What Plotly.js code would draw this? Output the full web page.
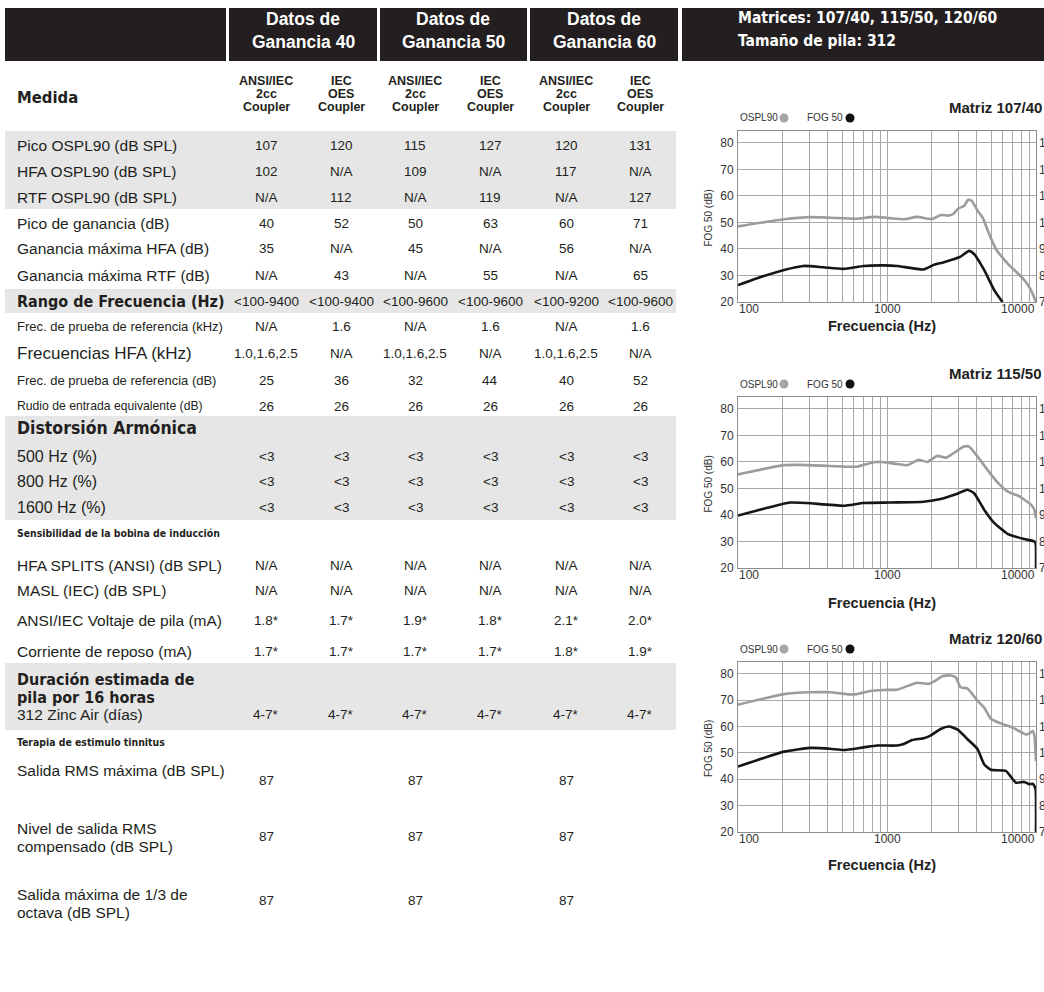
<!DOCTYPE html>
<html><head><meta charset="utf-8">
<script src="https://cdn.plot.ly/plotly-3.0.1.min.js"></script>
<style>html,body{margin:0;padding:0;background:#fff}#chart{width:1044px;height:992px}</style>
</head><body><div id="chart"></div>
<script>
// ================= DATA =================
const groupHeaders = ['Datos de\nGanancia 40', 'Datos de\nGanancia 50', 'Datos de\nGanancia 60'];
const couplerHeaders = ['ANSI/IEC\n2cc\nCoupler', 'IEC\nOES\nCoupler', 'ANSI/IEC\n2cc\nCoupler', 'IEC\nOES\nCoupler', 'ANSI/IEC\n2cc\nCoupler', 'IEC\nOES\nCoupler'];
const panelHeader = ['Matrices: 107/40, 115/50, 120/60', 'Tamaño de pila: 312'];
const measureHeader = 'Medida';

const rowLabels = [
  'Pico OSPL90 (dB SPL)',
  'HFA OSPL90 (dB SPL)',
  'RTF OSPL90 (dB SPL)',
  'Pico de ganancia (dB)',
  'Ganancia máxima HFA (dB)',
  'Ganancia máxima RTF (dB)',
  'Rango de Frecuencia (Hz)',
  'Frec. de prueba de referencia (kHz)',
  'Frecuencias HFA (kHz)',
  'Frec. de prueba de referencia (dB)',
  'Rudio de entrada equivalente (dB)',
  'Distorsión Armónica',
  '500 Hz (%)',
  '800 Hz (%)',
  '1600 Hz (%)',
  'Sensibilidad de la bobina de inducción',
  'HFA SPLITS (ANSI) (dB SPL)',
  'MASL (IEC) (dB SPL)',
  'ANSI/IEC Voltaje de pila (mA)',
  'Corriente de reposo (mA)',
  'Duración estimada de\npila por 16 horas',
  '312 Zinc Air (días)',
  'Terapia de estimulo tinnitus',
  'Salida RMS máxima (dB SPL)',
  'Nivel de salida RMS\ncompensado (dB SPL)',
  'Salida máxima de 1/3 de\noctava (dB SPL)'
];
const rowValues = [
  ['107', '120', '115', '127', '120', '131'],
  ['102', 'N/A', '109', 'N/A', '117', 'N/A'],
  ['N/A', '112', 'N/A', '119', 'N/A', '127'],
  ['40', '52', '50', '63', '60', '71'],
  ['35', 'N/A', '45', 'N/A', '56', 'N/A'],
  ['N/A', '43', 'N/A', '55', 'N/A', '65'],
  ['<100-9400', '<100-9400', '<100-9600', '<100-9600', '<100-9200', '<100-9600'],
  ['N/A', '1.6', 'N/A', '1.6', 'N/A', '1.6'],
  ['1.0,1.6,2.5', 'N/A', '1.0,1.6,2.5', 'N/A', '1.0,1.6,2.5', 'N/A'],
  ['25', '36', '32', '44', '40', '52'],
  ['26', '26', '26', '26', '26', '26'],
  [],
  ['<3', '<3', '<3', '<3', '<3', '<3'],
  ['<3', '<3', '<3', '<3', '<3', '<3'],
  ['<3', '<3', '<3', '<3', '<3', '<3'],
  [],
  ['N/A', 'N/A', 'N/A', 'N/A', 'N/A', 'N/A'],
  ['N/A', 'N/A', 'N/A', 'N/A', 'N/A', 'N/A'],
  ['1.8*', '1.7*', '1.9*', '1.8*', '2.1*', '2.0*'],
  ['1.7*', '1.7*', '1.7*', '1.7*', '1.8*', '1.9*'],
  [],
  ['4-7*', '4-7*', '4-7*', '4-7*', '4-7*', '4-7*'],
  [],
  ['87', '', '87', '', '87', ''],
  ['87', '', '87', '', '87', ''],
  ['87', '', '87', '', '87', '']
];

// Frequency response charts
const matrixNames = ['Matriz 107/40', 'Matriz 115/50', 'Matriz 120/60'];
const legendNames = ['OSPL90', 'FOG 50'];
const axisTitleY = 'FOG 50 (dB)';
const axisTitleX = 'Frecuencia (Hz)';
const gridFreqs = [100, 200, 300, 400, 500, 600, 700, 800, 900, 1000, 2000, 3000, 4000, 5000, 6000, 7000, 8000, 9000, 10000];
const freqLabels = [100, 1000, 10000];
const fogTicks = [20, 30, 40, 50, 60, 70, 80];
const osplTicks = [70, 80, 90, 100, 110, 120, 130];

const freqOspl_107 = [100, 204, 304, 415, 628, 813, 1052, 1294, 1592, 2000, 2300, 2600, 2800, 3000, 3300, 3500, 3700, 4047, 4400, 4725, 5375, 6440, 8340, 9250, 10000];
const ospl_107 = [98.5, 101.2, 102.0, 101.8, 101.4, 102.1, 101.6, 101.2, 102.1, 101.3, 102.8, 102.6, 103.3, 105.2, 106.3, 108.6, 108.2, 104.5, 101.6, 97.2, 90.0, 84.6, 78.3, 74.5, 70.0];
const freqFog_107 = [100, 133, 204, 274, 374, 511, 696, 950, 1167, 1765, 2064, 2409, 3119, 3550, 3840, 4486, 5240, 5960];
const fog_107 = [26.4, 28.9, 32.1, 33.6, 33.1, 32.5, 33.6, 33.8, 33.6, 32.3, 34.0, 35.0, 37.1, 39.3, 38.1, 32.1, 24.5, 20.0];

const freqOspl_115 = [100, 204, 260, 415, 628, 813, 925, 1167, 1365, 1634, 1862, 2173, 2473, 2675, 2966, 3289, 3550, 4047, 4725, 5520, 6440, 7730, 9250, 9750, 10000];
const ospl_115 = [105.3, 108.8, 108.9, 108.5, 108.2, 109.9, 110.0, 109.2, 108.8, 110.8, 110.0, 112.3, 111.6, 112.6, 114.3, 115.8, 115.8, 112.1, 107.0, 102.3, 98.9, 97.0, 93.9, 92.0, 88.8];
const freqFog_115 = [100, 155, 223, 289, 511, 696, 1052, 1765, 2291, 2966, 3460, 3840, 4486, 5240, 6440, 8340, 9750, 9950, 10000];
const fog_115 = [39.8, 42.6, 44.7, 44.5, 43.5, 44.5, 44.7, 45.0, 46.0, 48.0, 49.5, 48.2, 42.0, 37.0, 32.9, 30.9, 30.0, 29.2, 20.0];

const freqOspl_120 = [100, 204, 304, 415, 566, 628, 772, 950, 1167, 1435, 1592, 1910, 2118, 2350, 2675, 2891, 3119, 3460, 4047, 4486, 4975, 5810, 6960, 8570, 9020, 9500, 9750, 10000];
const ospl_120 = [118.3, 122.3, 123.0, 123.0, 122.2, 122.3, 123.5, 123.9, 124.0, 125.8, 126.6, 126.2, 127.4, 129.1, 129.4, 128.7, 124.9, 124.5, 119.8, 117.2, 113.0, 111.2, 109.6, 107.0, 107.4, 108.3, 106.6, 96.8];
const freqFog_120 = [100, 204, 304, 415, 511, 696, 857, 1167, 1294, 1475, 1765, 1958, 2291, 2606, 2966, 3460, 4047, 4486, 4975, 6280, 7330, 8340, 9020, 9500, 9750, 9950, 10000];
const fog_120 = [44.8, 50.5, 51.9, 51.6, 51.1, 52.1, 52.8, 52.8, 53.4, 54.9, 55.6, 56.6, 59.1, 60.0, 58.9, 55.3, 51.5, 45.7, 43.6, 43.2, 38.7, 39.0, 38.1, 38.3, 37.5, 36.0, 20.0];

// ================= LAYOUT / STYLE =================
const W = 1044, H = 992;
const px = x => x / W, py = y => 1 - y / H;
const SANS = 'Liberation Sans, Arial, Helvetica, sans-serif';
const HEAVY = 'DejaVu Sans Condensed, DejaVu Sans, sans-serif';
const INK = '#231f20';
const BAND = '#e6e6e6';

const annotations = [];
const shapes = [];
const esc = s => String(s).replace(/&/g, '&amp;').replace(/</g, '&lt;').replace(/>/g, '&gt;');

function txt(x, y, s, o) {
  annotations.push({
    xref: 'paper', yref: 'paper', x: px(x), y: py(y), text: esc(s), showarrow: false,
    xanchor: o.anchor || 'left', yanchor: 'middle', borderpad: 0,
    font: {family: o.family || SANS, size: o.size, color: o.color || INK, weight: o.bold ? 'bold' : 'normal'}
  });
}
function lines(x, y0, s, lh, o) {
  String(s).split('\n').forEach((ln, i) => txt(x, y0 + i * lh, ln, o));
}
function rect(x0, y0, x1, y1, color) {
  shapes.push({type: 'rect', xref: 'paper', yref: 'paper', x0: px(x0), x1: px(x1), y0: py(y1), y1: py(y0),
    fillcolor: color, line: {width: 0}, layer: 'below'});
}

// header bars
const barTop = 8, barBot = 61;
[[5, 226], [229, 377], [380, 527], [530, 678], [682, 1044]].forEach(b => rect(b[0], barTop, b[1], barBot, INK));
const groupX = [303, 453, 604];
groupHeaders.forEach((g, i) => lines(groupX[i], 19, g, 23, {size: 17.5, bold: true, color: '#ffffff', anchor: 'center'}));
lines(737, 18, panelHeader.join('\n'), 23, {size: 15.5, bold: true, color: '#ffffff', family: HEAVY});

// subheader
const colX = [266, 341, 415, 490, 566, 640];
txt(16, 97, measureHeader, {size: 16.5, bold: true, family: HEAVY});
couplerHeaders.forEach((c, i) => lines(colX[i], 81, c, 12.8, {size: 12.5, bold: true, anchor: 'center'}));

// grey bands
[[131, 209], [289, 313], [416, 520], [663, 730]].forEach(b => rect(5, b[0], 676, b[1], BAND));

// row styles (kept separate from the data)
const rowY = [145, 171, 197, 223, 249, 275, 301, 327, 353, 380, 406, 428, 456, 481, 507, 533, 565, 590, 620, 651, 679, 714, 742, 770, 828, 894];
const valY = [145, 171, 197, 223, 249, 275, 301, 327, 353, 380, 406, 428, 456, 481, 507, 533, 565, 590, 620, 651, 679, 714, 742, 780, 836, 900];
const STY = {
  n: {size: 15.5}, s: {size: 13}, xs: {size: 12.2}, l: {size: 17}, m: {size: 16},
  h: {size: 16, bold: true, family: HEAVY}, hd: {size: 17.5, bold: true, family: HEAVY},
  hr: {size: 16, bold: true, family: HEAVY}, hs: {size: 10.4, bold: true, family: HEAVY}
};
const rowStyle = ['n', 'n', 'n', 'n', 'n', 'n', 'hr', 's', 'l', 's', 'xs', 'hd', 'm', 'm', 'm', 'hs', 'n', 'n', 'n', 'n', 'h', 'n', 'hs', 'n', 'n', 'n'];

rowLabels.forEach((lab, r) => {
  lines(16, rowY[r], lab, 18, STY[rowStyle[r]]);
  rowValues[r].forEach((v, c) => { if (v !== '') txt(colX[c], valY[r], v, {size: 13.5, anchor: 'center'}); });
});

// ================= CHARTS =================
const CX0 = 738, CX1 = 1036;
const chartTop = [131, 397, 662];
const chartBot = [302, 568, 832];
const xTitleY = [326, 603, 865];
const osplSeries = [[freqOspl_107, ospl_107], [freqOspl_115, ospl_115], [freqOspl_120, ospl_120]];
const fogSeries = [[freqFog_107, fog_107], [freqFog_115, fog_115], [freqFog_120, fog_120]];

const traces = [];
const layout = {
  width: W, height: H, margin: {l: 0, r: 0, t: 0, b: 0, pad: 0},
  paper_bgcolor: '#ffffff', plot_bgcolor: '#ffffff', showlegend: false,
  font: {family: SANS, color: '#333'}, annotations, shapes
};
const GRID = '#a8a8a8', BORDER = '#8c8c8c';

for (let i = 0; i < 3; i++) {
  const xId = i === 0 ? 'x' : 'x' + (i + 1);
  const yL = i === 0 ? 'y' : 'y' + (2 * i + 1);
  const yR = 'y' + (2 * i + 2);
  const xKey = i === 0 ? 'xaxis' : 'xaxis' + (i + 1);
  const yLKey = i === 0 ? 'yaxis' : 'yaxis' + (2 * i + 1);
  const yRKey = 'yaxis' + (2 * i + 2);
  const dom = [py(chartBot[i]), py(chartTop[i])];

  layout[xKey] = {
    type: 'log', domain: [px(CX0), px(CX1)], range: [2, 4], anchor: yL,
    tickmode: 'array', tickvals: gridFreqs, showticklabels: false, ticks: '',
    showgrid: true, gridcolor: GRID, gridwidth: 1, zeroline: false,
    showline: true, mirror: true, linecolor: BORDER, linewidth: 1, fixedrange: true
  };
  layout[yLKey] = {
    domain: dom, range: [20, 84.5], anchor: xId, tickmode: 'array', tickvals: fogTicks,
    showgrid: true, gridcolor: GRID, gridwidth: 1, zeroline: false, ticks: '',
    showline: true, mirror: true, linecolor: BORDER, linewidth: 1,
    tickfont: {family: SANS, size: 12, color: '#333'}, ticklabelstandoff: 1, fixedrange: true
  };
  layout[yRKey] = {
    overlaying: yL, side: 'right', anchor: xId, range: [70, 134.5], tickmode: 'array', tickvals: osplTicks,
    showgrid: false, zeroline: false, ticks: '', showline: false,
    tickfont: {family: SANS, size: 12, color: '#333'}, ticklabelstandoff: 2, fixedrange: true
  };

  traces.push({
    type: 'scatter', mode: 'lines', x: osplSeries[i][0], y: osplSeries[i][1], xaxis: xId, yaxis: yR,
    line: {color: '#9c9c9c', width: 2.6, shape: 'spline', smoothing: 0.5}, hoverinfo: 'skip', name: legendNames[0]
  });
  traces.push({
    type: 'scatter', mode: 'lines', x: fogSeries[i][0], y: fogSeries[i][1], xaxis: xId, yaxis: yL,
    line: {color: '#161616', width: 2.6, shape: 'spline', smoothing: 0.5}, hoverinfo: 'skip', name: legendNames[1]
  });

  // darker 1000 Hz line
  shapes.push({type: 'line', xref: xId, yref: 'paper', x0: 3, x1: 3, y0: dom[0], y1: dom[1],
    line: {color: '#555', width: 1}, layer: 'above'});

  // x tick labels
  freqLabels.forEach((f, k) => {
    annotations.push({xref: xId, yref: 'paper', x: Math.log10(f), y: py(chartBot[i] + 7), text: String(f),
      showarrow: false, xanchor: k === 0 ? 'left' : (k === 2 ? 'right' : 'center'), yanchor: 'middle', borderpad: 0,
      font: {family: SANS, size: 12, color: '#333'}});
  });

  // titles
  txt(1043, chartTop[i] - 24, matrixNames[i], {size: 15, bold: true, anchor: 'right', color: '#222'});
  txt((CX0 + CX1) / 2 - 5, xTitleY[i], axisTitleX, {size: 14.5, bold: true, anchor: 'center', color: '#222'});
  annotations.push({xref: 'paper', yref: 'paper', x: px(708), y: py((chartTop[i] + chartBot[i]) / 2 + 2), text: axisTitleY,
    textangle: -90, showarrow: false, xanchor: 'center', yanchor: 'middle', font: {family: SANS, size: 10, color: '#333'}});

  // legend row
  const ly = chartTop[i] - 13;
  txt(739, ly, legendNames[0], {size: 10, color: '#333'});
  txt(806, ly, legendNames[1], {size: 10, color: '#333'});
  const dot = (cx, col) => shapes.push({type: 'circle', xref: 'paper', yref: 'paper',
    x0: px(cx - 4.5), x1: px(cx + 4.5), y0: py(ly + 4.5), y1: py(ly - 4.5), fillcolor: col, line: {width: 0}});
  dot(784, '#a6a6a6');
  dot(850, '#111111');
}

Plotly.newPlot('chart', traces, layout, {staticPlot: true, displayModeBar: false});
</script>
</body></html>
